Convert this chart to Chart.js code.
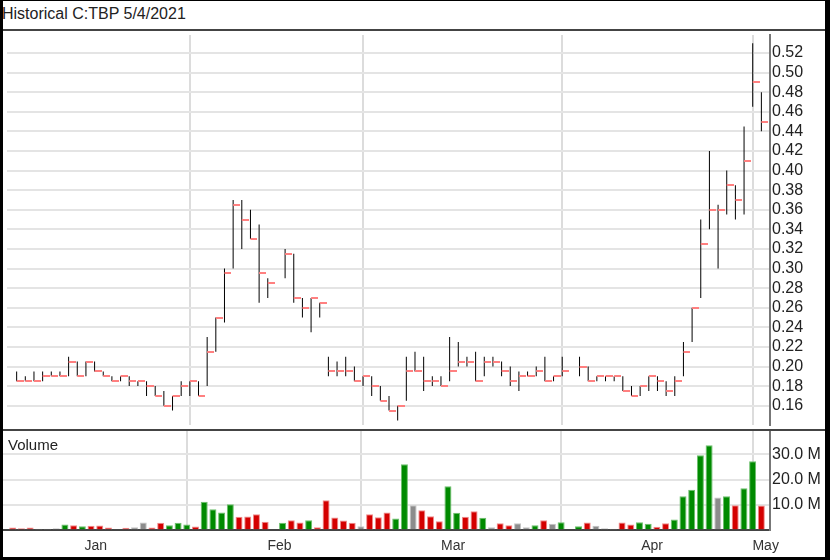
<!DOCTYPE html>
<html>
<head>
<meta charset="utf-8">
<script src="https://cdn.jsdelivr.net/npm/chart.js@4.4.0/dist/chart.umd.min.js"></script>
<style>
html,body{margin:0;padding:0;background:#fff;}
#wrap{position:relative;width:830px;height:560px;overflow:hidden;background:#fff;font-family:"Liberation Sans",Arial,sans-serif;}
.ln{position:absolute;background:#444;}
.bd{position:absolute;background:#000;}
#title{position:absolute;left:2px;top:6px;font-size:16px;line-height:16px;color:#222;white-space:nowrap;}
#vol{position:absolute;left:8px;top:437px;font-size:15px;line-height:15px;color:#222;white-space:nowrap;}
#cp{position:absolute;left:3px;top:31px;}
#cv{position:absolute;left:3px;top:431px;}
</style>
</head>
<body>
<div id="wrap">
  <canvas id="cp" width="822" height="398"></canvas>
  <canvas id="cv" width="822" height="126"></canvas>
  <div id="title">Historical C:TBP 5/4/2021</div>
  <div id="vol">Volume</div>
  <div class="ln" style="left:0;top:29px;width:830px;height:2px"></div>
  <div class="ln" style="left:0;top:429px;width:830px;height:2px"></div>
  <div class="bd" style="left:0;top:0;width:3px;height:560px"></div>
  <div class="bd" style="left:0;top:0;width:830px;height:1px"></div>
  <div class="bd" style="left:825px;top:0;width:5px;height:560px"></div>
  <div class="bd" style="left:0;top:557px;width:830px;height:3px"></div>
</div>
<script>
// Trading-day slots (weekdays from Jan 4 2021 to May 4 2021); null = market holiday
const highs = [0.195,0.19,0.195,0.195,0.195,0.195,0.21,0.205,0.205,0.205,
  0.195,0.19,0.19,0.19,0.185,0.185,0.18,0.175,0.17,0.185,
  0.185,0.185,0.23,0.25,0.30,0.37,0.37,0.36,0.345,0.29,
  null,0.32,0.315,0.27,0.27,0.265,0.21,0.205,0.21,0.20,
  0.19,0.19,0.18,0.17,0.16,0.21,0.215,0.21,0.19,0.19,
  0.23,0.225,0.21,0.215,0.21,0.21,0.205,0.20,0.195,0.195,
  0.20,0.21,0.19,0.21,null,0.21,0.20,0.19,0.19,0.19,
  0.19,0.18,0.18,0.19,0.19,0.185,0.19,0.225,0.26,0.35,
  0.42,0.365,0.40,0.385,0.445,0.53,0.48];
const lows = [0.185,0.185,0.185,0.185,0.19,0.19,0.19,0.19,0.19,0.195,
  0.19,0.185,0.185,0.18,0.18,0.17,0.17,0.16,0.155,0.17,
  0.17,0.17,0.18,0.215,0.245,0.30,0.32,0.33,0.265,0.27,
  null,0.29,0.265,0.25,0.235,0.25,0.19,0.19,0.19,0.185,
  0.18,0.17,0.165,0.155,0.145,0.165,0.195,0.175,0.18,0.18,
  0.185,0.20,0.20,0.185,0.19,0.20,0.19,0.18,0.175,0.19,
  0.19,0.185,0.185,0.19,null,0.19,0.185,0.185,0.185,0.185,
  0.175,0.17,0.17,0.175,0.175,0.17,0.17,0.19,0.225,0.27,
  0.34,0.30,0.355,0.35,0.355,0.465,0.44];
const closes = [0.185,0.185,0.185,0.19,0.19,0.19,0.205,0.19,0.205,0.195,
  0.19,0.185,0.19,0.185,0.185,0.18,0.17,0.16,0.17,0.18,
  0.185,0.17,0.215,0.25,0.295,0.365,0.35,0.33,0.295,0.285,
  null,0.315,0.27,0.26,0.27,0.265,0.195,0.195,0.195,0.185,
  0.19,0.18,0.165,0.155,0.16,0.195,0.195,0.185,0.185,0.18,
  0.195,0.205,0.205,0.185,0.205,0.205,0.195,0.185,0.19,0.19,
  0.195,0.185,0.19,0.195,null,0.20,0.185,0.19,0.19,0.19,
  0.175,0.17,0.18,0.19,0.185,0.175,0.185,0.215,0.26,0.325,
  0.36,0.36,0.385,0.37,0.41,0.49,0.45];
// volume in millions of shares
const volumes = [0.8,0.5,0.8,0.3,0.3,0.5,2.0,1.7,1.3,1.5,
  1.6,0.8,0.1,0.7,0.9,2.8,0.8,2.7,1.7,2.7,
  2.0,1.2,11.1,8.1,6.8,10.1,5.1,5.2,6.1,3.1,
  null,2.7,3.7,2.8,3.7,0.9,11.7,4.8,3.6,2.7,
  1.3,6.1,4.9,6.8,4.4,26.1,9.7,7.7,5.3,3.3,
  17.3,6.7,5.1,7.3,4.7,0.9,2.5,1.7,2.5,0.9,
  1.7,3.7,2.3,2.9,null,1.3,2.8,1.5,0.5,0.3,
  2.8,2.0,2.9,2.3,1.1,2.5,4.0,13.3,15.9,29.7,
  33.7,12.8,13.3,9.7,16.5,27.3,9.6];
// day direction: u = up, d = down, n = unchanged
const moves = ['d','d','d','n','n','n','u','d','u','d',
  'd','d','n','d','n','n','d','d','u','u',
  'u','d','u','u','u','u','d','d','d','d',
  null,'u','d','d','u','d','d','d','d','d',
  'n','d','d','d','u','u','n','d','d','d',
  'u','u','d','d','u','n','d','d','n','n',
  'u','d','n','u',null,'u','d','n','n','n',
  'd','d','u','u','d','d','u','u','u','u',
  'u','n','u','d','u','u','d'];
const monthStarts = [20, 40, 63, 85];
const monthNames = ['Jan','Feb','Mar','Apr','May'];
const monthLabelAt = [9.55, 30.65, 50.6, 73.45, 86.5];
const priceTicks = [0.16,0.18,0.20,0.22,0.24,0.26,0.28,0.30,0.32,0.34,0.36,0.38,0.40,0.42,0.44,0.46,0.48,0.50,0.52];
const volumeTicks = [10, 20, 30];

Chart.defaults.font.family = '"Liberation Sans", Arial, sans-serif';
const X_MIN = -1.114, X_MAX = 86.996;

const hlData = [], closeData = [], volData = [], volFill = [], volBorder = [];
const fillMap = {u:'#008a00', d:'#d40000', n:'#8c8c8c'};
const edgeMap = {u:'#6cbf6c', d:'#f08a8a', n:'#c4c4c4'};
highs.forEach((h, i) => {
  if (h === null) return;
  hlData.push({x:i, y:[lows[i], h]});
  closeData.push({x:i, y:closes[i]});
  volData.push({x:i, y:volumes[i]});
  volFill.push(fillMap[moves[i]]);
  volBorder.push(edgeMap[moves[i]]);
});

// close tick marker: right half of a small canvas
const tick = document.createElement('canvas');
tick.width = 14; tick.height = 2;
const tctx = tick.getContext('2d');
tctx.fillStyle = '#ff8080';
tctx.fillRect(7, 0, 7, 2);

new Chart(document.getElementById('cp'), {
  type: 'bar',
  data: { datasets: [
    { type:'bar', data: hlData, backgroundColor:'#000', borderWidth:0, barThickness:1, inflateAmount:0, grouped:false, order:2 },
    { type:'line', data: closeData, showLine:false, pointStyle: tick, pointRadius:3, pointHoverRadius:3, order:1 }
  ]},
  options: {
    responsive:false, animation:false, events:[],
    layout:{padding:0},
    plugins:{legend:{display:false}, tooltip:{enabled:false}, title:{display:false}},
    scales:{
      x:{ type:'linear', min:X_MIN, max:X_MAX, offset:false,
          grid:{color:'#dcdcdc', lineWidth:2, drawTicks:false, offset:false},
          border:{display:false}, ticks:{display:false, autoSkip:false},
          afterBuildTicks: s => { s.ticks = monthStarts.map(v => ({value:v})); } },
      y:{ position:'right', min:0.1403, max:0.5383,
          grid:{color:'#e4e4e4', lineWidth:2, drawTicks:false},
          border:{display:true, color:'#777', width:2},
          ticks:{padding:2, autoSkip:false, color:'#222', font:{size:16}, callback: v => Number(v).toFixed(2)},
          afterBuildTicks: s => { s.ticks = priceTicks.map(v => ({value:v})); },
          afterFit: s => { s.width = 55; s.paddingTop = 0; s.paddingBottom = 0; } }
    }
  }
});

const xTicks = monthStarts.map(v => ({value:v, kind:'grid'}))
  .concat(monthLabelAt.map((v, i) => ({value:v, kind:'label', name:monthNames[i]})))
  .sort((a, b) => a.value - b.value);

new Chart(document.getElementById('cv'), {
  type: 'bar',
  data: { datasets: [
    { data: volData, backgroundColor: volFill, borderColor: volBorder, borderWidth:1, borderSkipped:'bottom', barThickness:7, inflateAmount:0, grouped:false }
  ]},
  options: {
    responsive:false, animation:false, events:[],
    layout:{padding:0},
    plugins:{legend:{display:false}, tooltip:{enabled:false}, title:{display:false}},
    scales:{
      x:{ type:'linear', min:X_MIN, max:X_MAX, offset:false,
          grid:{ color: c => (c.tick && c.tick.kind === 'label') ? 'rgba(0,0,0,0)' : '#dcdcdc', lineWidth:2, drawTicks:false, offset:false },
          border:{display:true, color:'#444', width:2},
          ticks:{ autoSkip:false, maxRotation:0, minRotation:0, padding:8, color:'#333', font:{size:14},
                  callback: (v, i) => { const t = xTicks[i]; return t && t.kind === 'label' ? t.name : ''; } },
          afterBuildTicks: s => { s.ticks = xTicks.map(t => ({value:t.value, kind:t.kind})); },
          afterFit: s => { s.height = 27.5; s.paddingLeft = 0; s.paddingRight = 0; } },
      y:{ position:'right', min:0, max:39.4,
          grid:{color:'#e4e4e4', lineWidth:2, drawTicks:false},
          border:{display:true, color:'#777', width:2},
          ticks:{padding:2, autoSkip:false, color:'#222', font:{size:16}, callback: v => Number(v).toFixed(1) + ' M'},
          afterBuildTicks: s => { s.ticks = volumeTicks.map(v => ({value:v})); },
          afterFit: s => { s.width = 55; s.paddingTop = 0; s.paddingBottom = 0; } }
    }
  }
});
</script>
</body>
</html>
